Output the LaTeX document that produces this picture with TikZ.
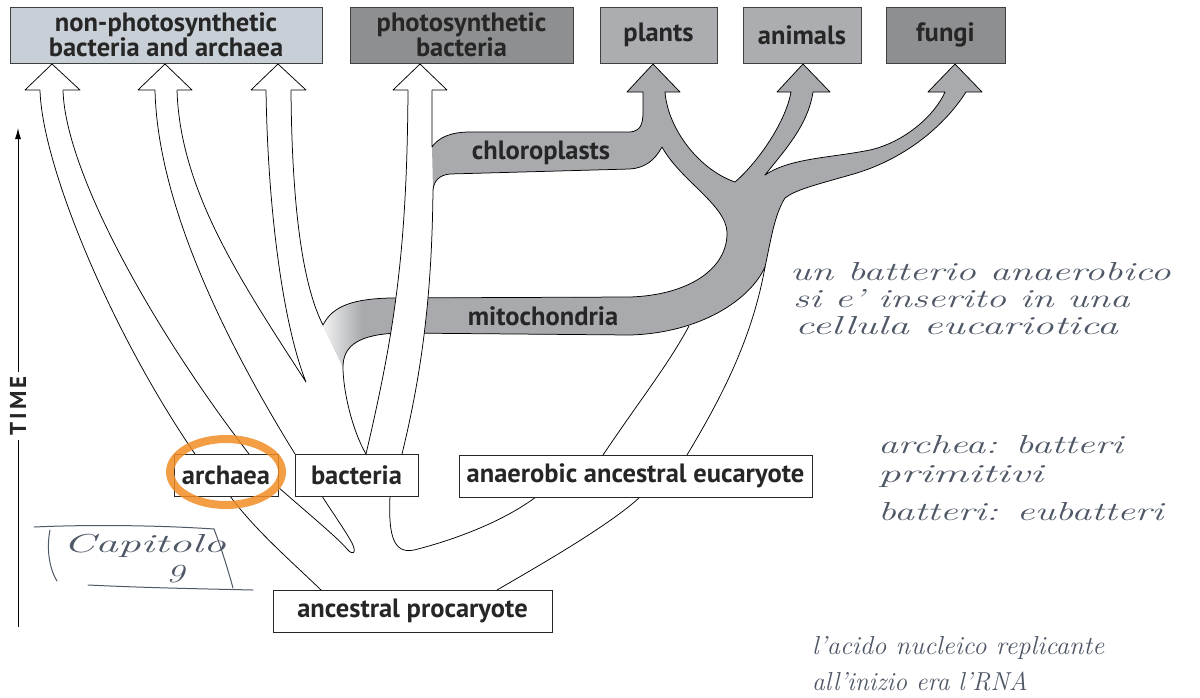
\documentclass[tikz,border=0pt]{standalone}
\usepackage{graphicx}
\usepackage{fontspec}
\newfontfamily\lab{PT Sans}
\usetikzlibrary{arrows.meta}
\definecolor{boxlight}{HTML}{C8CFD7}
\definecolor{boxmid}{HTML}{ABADB0}
\definecolor{boxdark}{HTML}{8D8F91}
\definecolor{band}{HTML}{A8AAAD}
\definecolor{ink}{HTML}{262626}
\definecolor{pen}{HTML}{4F5866}
\definecolor{marker}{HTML}{F28C24}
\tikzset{
  topbox/.style={draw=black!75, line width=0.8pt, text=ink, font=\lab\bfseries\fontsize{26.5}{23.5}\selectfont, align=center, inner sep=0pt, minimum height=56pt},
  lowbox/.style={draw=black!85, fill=white, line width=0.8pt, text=ink, font=\lab\bfseries\fontsize{26.5}{26}\selectfont, inner sep=0pt, minimum height=42pt},
  bandlabel/.style={text=ink, font=\lab\bfseries\fontsize{26.5}{26}\selectfont, inner sep=0pt},
  edge/.style={line width=0.75pt, black, line join=round},
  whitehead/.style={edge, fill=white},
  hand/.style={pen, font=\itshape\fontsize{26}{26}\selectfont, anchor=west, inner sep=0pt},
  penline/.style={pen, line width=1pt, line cap=round},
}
\begin{document}
\begin{tikzpicture}[x=1pt,y=-1pt]
\fill[white] (0,0) rectangle (1200,697);
\useasboundingbox (0,0) rectangle (1200,697);

% ---- gray eukaryote / organelle region ----
\fill[band] (323,325) .. controls (333,305) and (355,299) .. (390,298) -- (630,297)
  .. controls (690,295) and (728,268) .. (727,232)
  .. controls (726,205) and (680,180) .. (662,147)
  .. controls (655,160) and (645,168) .. (630,169) -- (450,174)
  .. controls (440,175) and (434,180) .. (433,190) -- (432,147)
  .. controls (438,138) and (450,132) .. (470,132) -- (630,132)
  .. controls (640,131) and (643,125) .. (643,112) -- (643,92) -- (627,92) -- (653,64) -- (680,92) -- (665,92)
  .. controls (668,130) and (700,170) .. (735,182)
  .. controls (755,165) and (785,125) .. (791,92) -- (777,92) -- (803,64) -- (830,92) -- (813,92)
  .. controls (808,125) and (785,150) .. (765,175)
  .. controls (790,158) and (830,158) .. (870,150)
  .. controls (905,142) and (935,115) .. (945,92) -- (928,92) -- (955,64) -- (982,92) -- (966,92)
  .. controls (945,125) and (905,160) .. (850,175)
  .. controls (815,185) and (795,190) .. (785,198)
  .. controls (774,215) and (770,245) .. (765,267)
  .. controls (750,300) and (700,333) .. (630,335) -- (400,333)
  .. controls (360,334) and (343,345) .. (343,367) -- cycle;
% fading left end of the mitochondria band
\begin{scope}
\clip (323,325) .. controls (333,305) and (355,299) .. (390,298) -- (390,340) -- (360,340)
  .. controls (350,345) and (343,352) .. (343,367) -- cycle;
\shade[left color=white, right color=band] (316,290) rectangle (362,375);
\end{scope}

% ---- outlines ----
\draw[edge] (291,90) .. controls (292,220) and (305,290) .. (323,325)
  .. controls (333,305) and (355,299) .. (390,298) -- (630,297)
  .. controls (690,295) and (728,268) .. (727,232)
  .. controls (726,205) and (680,180) .. (662,147)
  .. controls (655,160) and (645,168) .. (630,169) -- (450,174)
  .. controls (440,175) and (434,180) .. (433,190);
\draw[edge] (432,90) -- (432,147)
  .. controls (438,138) and (450,132) .. (470,132) -- (630,132)
  .. controls (640,131) and (643,125) .. (643,112) -- (643,92) -- (627,92) -- (653,64) -- (680,92) -- (665,92)
  .. controls (668,130) and (700,170) .. (735,182)
  .. controls (755,165) and (785,125) .. (791,92) -- (777,92) -- (803,64) -- (830,92) -- (813,92)
  .. controls (808,125) and (785,150) .. (765,175)
  .. controls (790,158) and (830,158) .. (870,150)
  .. controls (905,142) and (935,115) .. (945,92) -- (928,92) -- (955,64) -- (982,92) -- (966,92)
  .. controls (945,125) and (905,160) .. (850,175)
  .. controls (815,185) and (795,190) .. (785,198)
  .. controls (774,215) and (770,245) .. (765,267)
  .. controls (750,300) and (700,333) .. (630,335) -- (400,333)
  .. controls (360,334) and (343,345) .. (343,367)
  .. controls (343,390) and (352,430) .. (366,454);

% white tubes toward non-photosynthetic bacteria and archaea
\draw[edge] (40,90) .. controls (42,165) and (110,330) .. (195,454);
\draw[edge] (63,90) .. controls (65,170) and (150,325) .. (249,454);
\draw[edge] (155,90) .. controls (157,180) and (200,300) .. (295,454);
\draw[edge] (177,90) .. controls (180,190) and (240,280) .. (306,382)
  .. controls (285,330) and (268,220) .. (266,90);

% anaerobic eucaryote tube
\draw[edge] (603,455) .. controls (640,400) and (668,365) .. (689,326);
\draw[edge] (687,455) .. controls (720,400) and (752,340) .. (765,267);

% below the middle row
\draw[edge] (230,496) .. controls (255,530) and (290,560) .. (321,590);
\draw[edge] (278,487) .. controls (310,515) and (340,540) .. (347,549)
  .. controls (353,556) and (357,553) .. (352,543)
  .. controls (345,530) and (332,512) .. (322,496);
\draw[edge] (390,496) .. controls (388,540) and (395,556) .. (418,549)
  .. controls (460,538) and (505,520) .. (536,497);
\draw[edge] (640,497) .. controls (610,525) and (540,565) .. (497,590);

% photosynthetic shaft passes over mitochondria band
\begin{scope}
\clip (360,284) rectangle (440,346);
\fill[white] (408,90) .. controls (407,250) and (395,330) .. (366,454) -- (402,454)
  .. controls (425,360) and (432,280) .. (433,190) -- (432,147) -- (432,90) -- cycle;
\end{scope}
\draw[edge] (408,90) .. controls (407,250) and (395,330) .. (366,454);
\draw[edge] (433,190) .. controls (432,280) and (425,360) .. (402,454);

% white arrow heads
\draw[whitehead] (40,90) -- (25,90) -- (52,64) -- (80,90) -- (63,90);
\draw[whitehead] (155,90) -- (138,90) -- (165,64) -- (192,90) -- (177,90);
\draw[whitehead] (266,90) -- (251,90) -- (278,64) -- (306,90) -- (291,90);
\draw[whitehead] (408,90) -- (393,90) -- (420,64) -- (447,90) -- (432,90);

% labels on the bands
\node[bandlabel] (chl) at (541,153) {chloroplasts};
\node[bandlabel] (mit) at (543,316) {mitochondria};

% ---- boxes ----
\node[topbox, fill=boxlight, minimum width=312pt] (npb) at (166,35) {non-photosynthetic\\bacteria and archaea};
\node[topbox, fill=boxdark, minimum width=223pt] (phb) at (461.5,35) {photosynthetic\\bacteria};
\node[topbox, fill=boxmid, minimum width=117pt] (pla) at (658.5,35) {plants};
\node[topbox, fill=boxmid, minimum width=118pt] (ani) at (802,35) {animals};
\node[topbox, fill=boxdark, minimum width=119pt] (fun) at (945.5,35) {fungi};

\node[lowbox, minimum width=104pt] (arc) at (226,475) {archaea};
\node[lowbox, minimum width=123pt] (bac) at (356.5,475) {bacteria};
\node[lowbox, minimum width=353pt] (ane) at (635.5,476) {anaerobic ancestral eucaryote};
\node[lowbox, minimum width=279pt] (pro) at (412.5,611) {ancestral procaryote};

% ---- time axis ----
\node[rotate=90, text=ink, inner sep=4pt, font=\lab\bfseries\fontsize{23}{23}\selectfont] (time) at (18,406) {T\kern3pt I\kern3pt M\kern3pt E};
\coordinate (tb) at (18,627);
\coordinate (tt) at (18,128);
\draw[line width=1pt] (tb) -- (time.west);
\draw[line width=1pt, -{Latex[length=11pt,width=6pt]}] (time.east) -- (tt);

% ---- handwritten notes ----
\draw[marker, line width=8pt, opacity=0.85] (226,472) ellipse [x radius=56, y radius=33];
\node[hand] (n1) at (790,272) {\scalebox{1.54}[1]{un batterio anaerobico}};
\node[hand] (n2) at (793,299) {\scalebox{1.52}[1]{si e' inserito in una}};
\node[hand] (n3) at (795,326) {\scalebox{1.62}[1]{cellula eucariotica}};
\node[hand] (n4) at (878,445) {\scalebox{1.52}[1]{archea: batteri}};
\node[hand] (n5) at (878,477) {\scalebox{1.72}[1]{primitivi}};
\node[hand] (n6) at (878,512) {\scalebox{1.53}[1]{batteri: eubatteri}};
\node[hand] (n7) at (812,648) {\scalebox{1.02}[1]{l'acido nucleico replicante}};
\node[hand] (n8) at (812,681) {\scalebox{0.98}[1]{all'inizio era l'RNA}};
\node[hand] (cap) at (63,546) {\scalebox{1.75}[1]{Capitolo}};
\node[hand] (nine) at (166,574) {\scalebox{1.4}[1]{9}};
\draw[penline] (34,527) .. controls (100,524) and (170,526) .. (214,529);
\draw[penline] (50,530) .. controls (46,550) and (50,570) .. (57,581);
\draw[penline] (214,529) .. controls (222,550) and (228,570) .. (233,588);
\draw[penline] (88,585) .. controls (150,588) and (210,589) .. (253,590);
\end{tikzpicture}
\end{document}
